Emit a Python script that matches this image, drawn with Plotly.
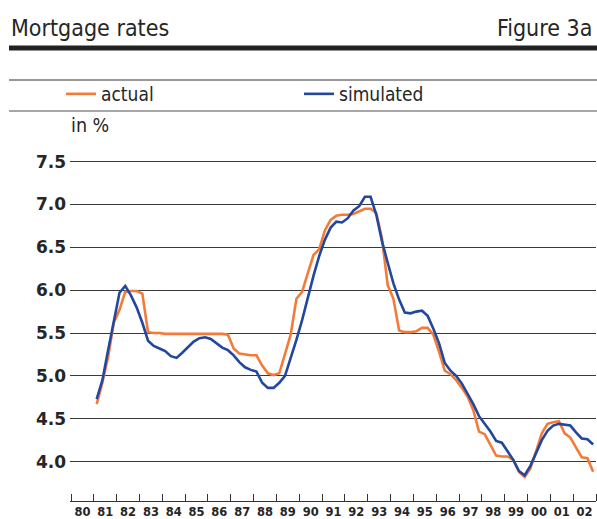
import plotly.graph_objects as go

# ---------------- data (quarterly, mid-quarter positions) ----------------
years = list(range(1981, 2003))
quarter_x = [y + (q - 0.5) / 4 for y in years for q in range(1, 5)]

actual = [
    4.67, 4.92, 5.22, 5.62, 5.77, 5.98, 5.99, 5.99, 5.96, 5.51,
    5.50, 5.50, 5.49, 5.49, 5.49, 5.49, 5.49, 5.49, 5.49, 5.49,
    5.49, 5.49, 5.49, 5.48, 5.32, 5.26, 5.25, 5.24, 5.24, 5.12,
    5.03, 5.01, 5.03, 5.25, 5.48, 5.90, 5.98, 6.20, 6.41, 6.48,
    6.70, 6.82, 6.87, 6.88, 6.88, 6.89, 6.92, 6.95, 6.95, 6.90,
    6.60, 6.06, 5.90, 5.53, 5.51, 5.51, 5.52, 5.56, 5.56, 5.48,
    5.28, 5.06, 5.02, 4.95, 4.86, 4.76, 4.60, 4.35, 4.32, 4.20,
    4.07, 4.06, 4.06, 4.02, 3.88, 3.82, 3.92, 4.12, 4.33, 4.44,
    4.46, 4.47, 4.33, 4.28, 4.16, 4.05, 4.04, 3.88,
]
simulated = [
    4.73, 4.95, 5.30, 5.65, 5.97, 6.05, 5.94, 5.80, 5.62, 5.41,
    5.35, 5.32, 5.29, 5.23, 5.21, 5.27, 5.33, 5.40, 5.44, 5.45,
    5.43, 5.38, 5.33, 5.30, 5.24, 5.16, 5.10, 5.07, 5.05, 4.92,
    4.86, 4.86, 4.92, 5.00, 5.20, 5.42, 5.65, 5.92, 6.17, 6.40,
    6.59, 6.73, 6.80, 6.79, 6.84, 6.93, 6.98, 7.09, 7.09, 6.88,
    6.57, 6.32, 6.08, 5.89, 5.74, 5.73, 5.75, 5.76, 5.70, 5.55,
    5.38, 5.15, 5.06, 5.00, 4.91, 4.79, 4.67, 4.53, 4.44, 4.35,
    4.24, 4.22, 4.12, 4.02, 3.89, 3.84, 3.95, 4.10, 4.25, 4.36,
    4.42, 4.44, 4.43, 4.42, 4.34, 4.27, 4.26, 4.20,
]

year_ticks = list(range(1980, 2004))
label_pos = [y + 0.5 for y in range(1980, 2003)]
label_text = ["80", "81", "82", "83", "84", "85", "86", "87", "88", "89", "90",
              "91", "92", "93", "94", "95", "96", "97", "98", "99", "00", "01", "02"]
y_ticks = [4.0, 4.5, 5.0, 5.5, 6.0, 6.5, 7.0, 7.5]

ORANGE = "#F47A38"
BLUE = "#22479E"
FONT = "DejaVu Sans Condensed, Liberation Sans Narrow, Roboto Condensed, Open Sans, sans-serif"
TXT = "#262626"

W, H = 597, 519
L, R, T, B = 70, 1, 153, 18
PW, PH = W - L - R, H - T - B


def py(ypx):
    return (H - B - ypx) / PH


def px(xpx):
    return (xpx - L) / PW


fig = go.Figure()
fig.add_trace(go.Scatter(x=quarter_x, y=actual, mode="lines", name="actual",
                         line=dict(color=ORANGE, width=2.6)))
fig.add_trace(go.Scatter(x=quarter_x, y=simulated, mode="lines", name="simulated",
                         line=dict(color=BLUE, width=2.6)))

fig.update_layout(
    width=W, height=H,
    margin=dict(l=L, r=R, t=T, b=B, autoexpand=False),
    paper_bgcolor="white", plot_bgcolor="white",
    font=dict(family=FONT, color=TXT),
    showlegend=True,
    legend=dict(orientation="h", x=px(61), xanchor="left", y=py(94), yanchor="middle",
                font=dict(size=19, color=TXT), entrywidth=193, entrywidthmode="pixels",
                bgcolor="rgba(0,0,0,0)", itemclick=False),
    xaxis=dict(
        range=[1980 - 1 / 22.83, 2003.0],
        automargin=False,
        tickmode="array", tickvals=label_pos, ticktext=label_text, ticks="",
        tickfont=dict(size=11.5, color=TXT, family="DejaVu Sans, sans-serif", weight="bold"),
        ticklabelstandoff=0,
        showgrid=False, zeroline=False,
        showline=True, linecolor="#333333", linewidth=1.3,
        minor=dict(tickmode="array", tickvals=year_ticks, ticks="inside", ticklen=7,
                   tickcolor="#333333", tickwidth=1.2, showgrid=False),
    ),
    yaxis=dict(
        range=[3.54, 3.54 + PH / 85.7],
        automargin=False,
        tickmode="array", tickvals=y_ticks, ticktext=[f"{v:.1f}" for v in y_ticks],
        ticks="",
        tickfont=dict(size=17, color=TXT, family="DejaVu Sans, sans-serif", weight="bold"),
        ticklabelstandoff=3,
        showgrid=True, gridcolor="#3a3a3a", gridwidth=1.3,
        zeroline=False, showline=False,
    ),
    annotations=[
        dict(text="Mortgage rates", xref="paper", yref="paper", x=px(9), y=py(28),
             xanchor="left", yanchor="middle", showarrow=False,
             font=dict(size=23, color=TXT)),
        dict(text="Figure 3a", xref="paper", yref="paper", x=px(594), y=py(28),
             xanchor="right", yanchor="middle", showarrow=False,
             font=dict(size=23, color=TXT)),
        dict(text="in %", xref="paper", yref="paper", x=px(69), y=py(126),
             xanchor="left", yanchor="middle", showarrow=False,
             font=dict(size=19.5, color=TXT)),
    ],
    shapes=[
        dict(type="line", xref="paper", yref="paper", x0=px(9), x1=px(597),
             y0=py(48), y1=py(48), line=dict(color="#222222", width=5)),
        dict(type="line", xref="paper", yref="paper", x0=px(9), x1=px(597),
             y0=py(80), y1=py(80), line=dict(color="#333333", width=1.2)),
        dict(type="line", xref="paper", yref="paper", x0=px(9), x1=px(597),
             y0=py(111), y1=py(111), line=dict(color="#888888", width=1.5)),
    ],
)

fig.write_html("out.html",
               config={"displayModeBar": False},
               post_script="document.body.style.margin='0';document.body.style.padding='0';")
